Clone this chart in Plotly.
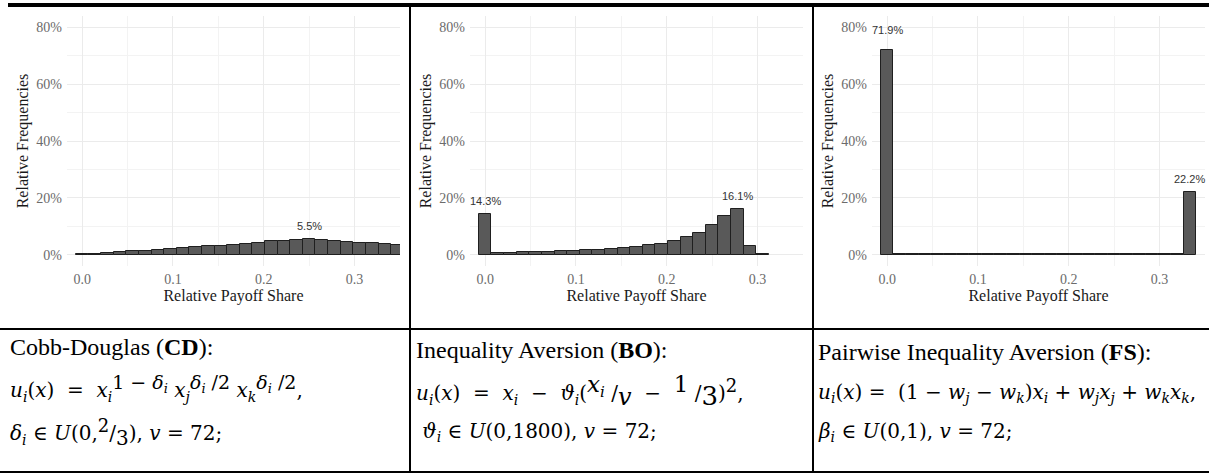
import plotly.graph_objects as go

# ---------------- data ----------------
V = 72  # payoff units
cd_units = list(range(0, 26))
cd_freq = [0.1, 0.2, 0.5, 0.9, 1.2, 1.4, 1.5, 2.0, 2.3, 2.7, 2.9, 3.2, 3.5,
           3.7, 4.1, 4.7, 4.9, 5.1, 5.5, 5.3, 4.9, 4.6, 4.2, 4.0, 3.6, 3.4]
bo_units = list(range(0, 23))
bo_freq = [14.3, 0.6, 0.7, 0.8, 0.9, 0.9, 1.2, 1.3, 1.5, 1.8, 2.1, 2.5,
           2.8, 3.3, 3.9, 4.9, 6.1, 7.7, 10.3, 13.5, 16.1, 3.2, 0.1]
fs_units = list(range(0, 25))
fs_freq = [71.9, 0.3, 0.3, 0.2, 0.3, 0.2, 0.3, 0.2, 0.3, 0.2, 0.3, 0.2, 0.3,
           0.2, 0.3, 0.2, 0.3, 0.2, 0.3, 0.2, 0.3, 0.3, 0.2, 0.3, 22.2]
cd_labels = [18]
bo_labels = [0, 20]
fs_labels = [0, 24]

x_ticks = [0.0, 0.1, 0.2, 0.3]
y_ticks = [0.0, 0.2, 0.4, 0.6, 0.8]


def sup(t, size=18):
    return f'<sup><span style="font-size:{size}px">{t}</span></sup>'


def sub(t, size=14):
    return f'<sub><span style="font-size:{size}px">{t}</span></sub>'


def nsub(t, size=13):
    return sub(t, size)


headings = ["Cobb-Douglas (<b>CD</b>):",
            "Inequality Aversion (<b>BO</b>):",
            "Pairwise Inequality Aversion (<b>FS</b>):"]
formulas = [
    f"<i>u{sub('i')}</i>(<i>x</i>)  =  <i>x{sub('i')}</i>{sup('1 − <i>δ</i>' + nsub('<i>i</i>'), 19)} "
    f"<i>x{sub('j')}</i>{sup('<i>δ</i>' + nsub('<i>i</i>') + ' /2', 19)} "
    f"<i>x{sub('k')}</i>{sup('<i>δ</i>' + nsub('<i>i</i>') + ' /2', 19)},",
    f"<i>u{sub('i')}</i>(<i>x</i>)  =  <i>x{sub('i')}</i>  −  <i>ϑ{sub('i')}</i>("
    f"{sup('<i>x</i>' + nsub('<i>i</i>', 15), 23)} /{sub('<i>v</i>', 24)}  −  {sup('1', 23)} /{sub('3', 26)})"
    f"{sup('2', 18)},",
    f"<i>u{sub('i')}</i>(<i>x</i>) =  (1 − <i>w{sub('j')}</i> − <i>w{sub('k')}</i>)<i>x{sub('i')}</i> + "
    f"<i>w{sub('j')}x{sub('j')}</i> + <i>w{sub('k')}x{sub('k')}</i>,",
]
params = [
    f"<i>δ{sub('i')}</i> ∈ <i>U</i>(0,{sup('2', 18)}/{sub('3', 20)}), <i>v</i> = 72;",
    f" <i>ϑ{sub('i')}</i> ∈ <i>U</i>(0,1800), <i>v</i> = 72;",
    f"<i>β{sub('i')}</i> ∈ <i>U</i>(0,1), <i>v</i> = 72;",
]

# ---------------- figure ----------------
W, H = 1209, 473


def px(x):
    return x / W


def py(y):
    return 1 - y / H


fig = go.Figure()
panels = [(cd_units, cd_freq, cd_labels), (bo_units, bo_freq, bo_labels), (fs_units, fs_freq, fs_labels)]
x_domains = [(67, 400), (470, 803), (872, 1205)]
serif = "Liberation Serif"

for i, (units, freq, labs) in enumerate(panels):
    xa = "x" if i == 0 else f"x{i+1}"
    ya = "y" if i == 0 else f"y{i+1}"
    xs = [u / V for u in units]
    ys = [f / 100 for f in freq]
    fig.add_trace(go.Bar(x=xs, y=ys, width=[1 / V] * len(xs), xaxis=xa, yaxis=ya,
                         marker=dict(color="#595959", line=dict(color="#1f1f1f", width=1)),
                         showlegend=False, hoverinfo="x+y"))
    for k in labs:
        idx = units.index(k)
        fig.add_annotation(x=xs[idx], y=ys[idx], xref=xa, yref=ya,
                           text=f"{freq[idx]:.1f}%", showarrow=False,
                           yanchor="bottom", yshift=5 if freq[idx] < 50 else 12,
                           font=dict(family="Liberation Sans", size=11, color="#333333"))
    d0, d1 = x_domains[i]
    axkey = "xaxis" if i == 0 else f"xaxis{i+1}"
    aykey = "yaxis" if i == 0 else f"yaxis{i+1}"
    fig.layout[axkey] = dict(
        domain=[px(d0), px(d1)], anchor=ya, range=[-1 / 60, 0.35],
        tickvals=x_ticks, tickformat=".1f", showgrid=True, gridcolor="#ebebeb", gridwidth=1,
        zeroline=False, showline=False, ticks="", ticklabelstandoff=3,
        minor=dict(tickvals=[0.05, 0.15, 0.25], showgrid=True, gridcolor="#f3f3f3", gridwidth=1),
        tickfont=dict(family=serif, size=14, color="#6b6b6b"),
        title=dict(text="Relative Payoff Share", standoff=1,
                   font=dict(family=serif, size=16, color="#1a1a1a")),
        fixedrange=True)
    fig.layout[aykey] = dict(
        domain=[py(266), py(16)], anchor=xa, range=[-0.04, 0.84],
        tickvals=y_ticks, tickformat=".0%", showgrid=True, gridcolor="#ebebeb", gridwidth=1,
        zeroline=False, showline=False, ticks="", ticklabelstandoff=4,
        minor=dict(tickvals=[0.1, 0.3, 0.5, 0.7], showgrid=True, gridcolor="#f3f3f3", gridwidth=1),
        tickfont=dict(family=serif, size=14, color="#6b6b6b"),
        title=dict(text="Relative Frequencies", standoff=3,
                   font=dict(family=serif, size=16, color="#1a1a1a")),
        fixedrange=True)

# ---------------- table lines ----------------
fig.add_shape(type="line", xref="paper", yref="paper", x0=px(8), x1=1, y0=py(5), y1=py(5),
              line=dict(color="black", width=4))
for xv in (410, 813):
    fig.add_shape(type="line", xref="paper", yref="paper", x0=px(xv), x1=px(xv), y0=py(3), y1=py(473),
                  line=dict(color="black", width=2))
fig.add_shape(type="line", xref="paper", yref="paper", x0=0, x1=1, y0=py(329), y1=py(329),
              line=dict(color="black", width=2))
fig.add_shape(type="line", xref="paper", yref="paper", x0=0, x1=1, y0=py(472), y1=py(472),
              line=dict(color="black", width=2))

# ---------------- formula cells ----------------
col_x = [8, 414, 816]
head_y = [347, 350, 352]
form_y = [388, 391, 393]
par_y = [432, 432, 432]
for j in range(3):
    fig.add_annotation(x=px(col_x[j]), y=py(head_y[j]), xref="paper", yref="paper", text=headings[j],
                       showarrow=False, xanchor="left", yanchor="middle",
                       font=dict(family=serif, size=24, color="black"))
    fig.add_annotation(x=px(col_x[j]), y=py(form_y[j]), xref="paper", yref="paper", text=formulas[j],
                       showarrow=False, xanchor="left", yanchor="middle",
                       font=dict(family="DejaVu Serif", size=20, color="black"))
    fig.add_annotation(x=px(col_x[j]), y=py(par_y[j]), xref="paper", yref="paper", text=params[j],
                       showarrow=False, xanchor="left", yanchor="middle",
                       font=dict(family="DejaVu Serif", size=20, color="black"))

fig.update_layout(width=W, height=H, margin=dict(l=0, r=0, t=0, b=0),
                  paper_bgcolor="white", plot_bgcolor="white", bargap=0,
                  showlegend=False)

fig.write_html("out.html", config={"displayModeBar": False},
               post_script="document.body.style.margin='0px';")
